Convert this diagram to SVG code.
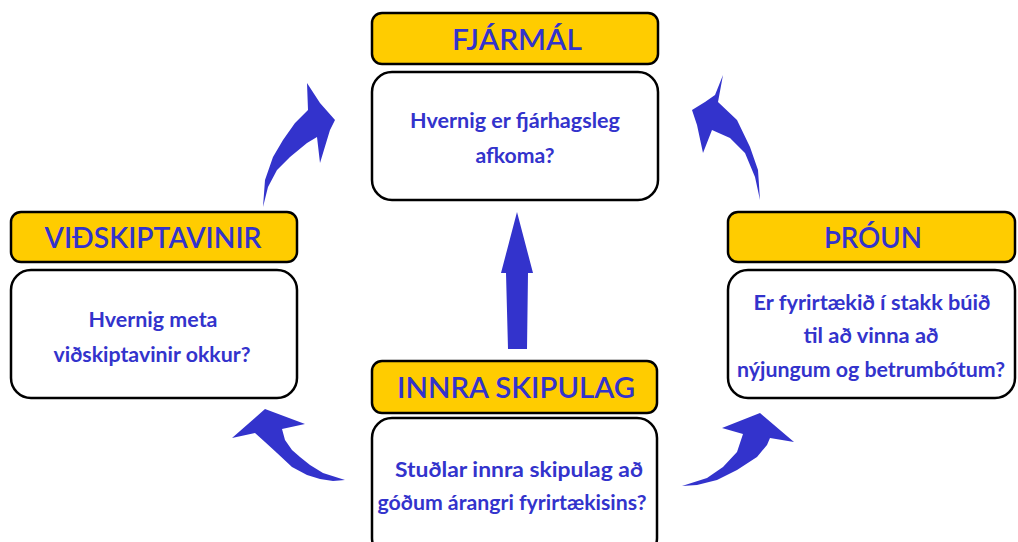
<svg xmlns="http://www.w3.org/2000/svg" width="1018" height="542" viewBox="0 0 1018 542">
  <style>
    .head { fill: #ffcc00; stroke: #000; stroke-width: 2.5; }
    .body { fill: #fff; stroke: #000; stroke-width: 2.5; }
    .title { font-family: Lato, "Open Sans", sans-serif; font-weight: 600; font-size: 29px; fill: #3333cc; text-anchor: middle; }
    .txt { font-family: Lato, "Open Sans", sans-serif; font-weight: bold; font-size: 20px; fill: #3333cc; text-anchor: middle; }
    .arrow { fill: #3333cc; stroke: none; }
  </style>
  <rect width="1018" height="542" fill="#fff"/>

  <!-- connectors: curved and straight block arrows -->
  <g id="connectors">
    <!-- upper left: customers -> finance -->
    <path class="arrow" d="M263,207 L265,180 L273,157 L283,140 L295,123 L308,110 L307,83 L320,103 L335,120 L330,130 L320,163 L317,137 L307,143 L290,157 L277,170 L268,187 Z"/>
    <!-- upper right: development -> finance -->
    <path class="arrow" d="M760,200 L758,170 L750,147 L737,120 L718,102 L723,75 L715,95 L705,102 L692,110 L697,125 L703,153 L712,130 L730,138 L745,153 L755,177 Z"/>
    <!-- centre: internal -> finance -->
    <path class="arrow" d="M517,212 L533,273 L528,273 L527,349 L508,349 L506,273 L501,273 Z"/>
    <!-- lower left: internal -> customers -->
    <path class="arrow" d="M232,438 L265,409 L305,424 L282,429 L285,440 L292,450 L300,457 L310,465 L323,473 L345,480 L333,481 L320,479 L307,475 L292,467 L277,453 L265,442 L255,433 Z"/>
    <!-- lower right: internal -> development -->
    <path class="arrow" d="M682,486 L697,485 L717,480 L737,470 L757,457 L767,445 L770,438 L794,442 L760,413 L722,428 L743,434 L737,452 L723,467 L707,478 Z"/>
  </g>

  <g id="fjarmal">
    <rect class="head" x="372" y="13" width="286" height="51" rx="10"/>
    <text class="title" x="517" y="50" textLength="130" lengthAdjust="spacingAndGlyphs">FJÁRMÁL</text>
    <rect class="body" x="372" y="72" width="286" height="128" rx="20"/>
    <text class="txt" x="515" y="128" textLength="210" lengthAdjust="spacingAndGlyphs">Hvernig er fjárhagsleg</text>
    <text class="txt" x="515" y="163" textLength="79" lengthAdjust="spacingAndGlyphs">afkoma?</text>
  </g>

  <g id="vidskiptavinir">
    <rect class="head" x="11" y="212" width="286" height="50" rx="10"/>
    <text class="title" x="153" y="248" textLength="217" lengthAdjust="spacingAndGlyphs">VIÐSKIPTAVINIR</text>
    <rect class="body" x="11" y="270" width="286" height="128" rx="20"/>
    <text class="txt" x="153" y="327" textLength="129" lengthAdjust="spacingAndGlyphs">Hvernig meta</text>
    <text class="txt" x="152" y="362" textLength="197" lengthAdjust="spacingAndGlyphs">viðskiptavinir okkur?</text>
  </g>

  <g id="throun">
    <rect class="head" x="728" y="212" width="287" height="50" rx="10"/>
    <text class="title" x="873" y="248" textLength="98" lengthAdjust="spacingAndGlyphs">ÞRÓUN</text>
    <rect class="body" x="728" y="270" width="287" height="128" rx="20"/>
    <text class="txt" x="872" y="310" textLength="237" lengthAdjust="spacingAndGlyphs">Er fyrirtækið í stakk búið</text>
    <text class="txt" x="871" y="343" textLength="135" lengthAdjust="spacingAndGlyphs">til að vinna að</text>
    <text class="txt" x="871" y="377" textLength="268" lengthAdjust="spacingAndGlyphs">nýjungum og betrumbótum?</text>
  </g>

  <g id="innra-skipulag">
    <rect class="head" x="372" y="361" width="285" height="52" rx="10"/>
    <text class="title" x="516" y="398" textLength="238" lengthAdjust="spacingAndGlyphs">INNRA SKIPULAG</text>
    <rect class="body" x="372" y="418" width="285" height="140" rx="20"/>
    <text class="txt" x="519" y="477" textLength="248" lengthAdjust="spacingAndGlyphs">Stuðlar innra skipulag að</text>
    <text class="txt" x="512" y="510" textLength="269" lengthAdjust="spacingAndGlyphs">góðum árangri fyrirtækisins?</text>
  </g>
</svg>
